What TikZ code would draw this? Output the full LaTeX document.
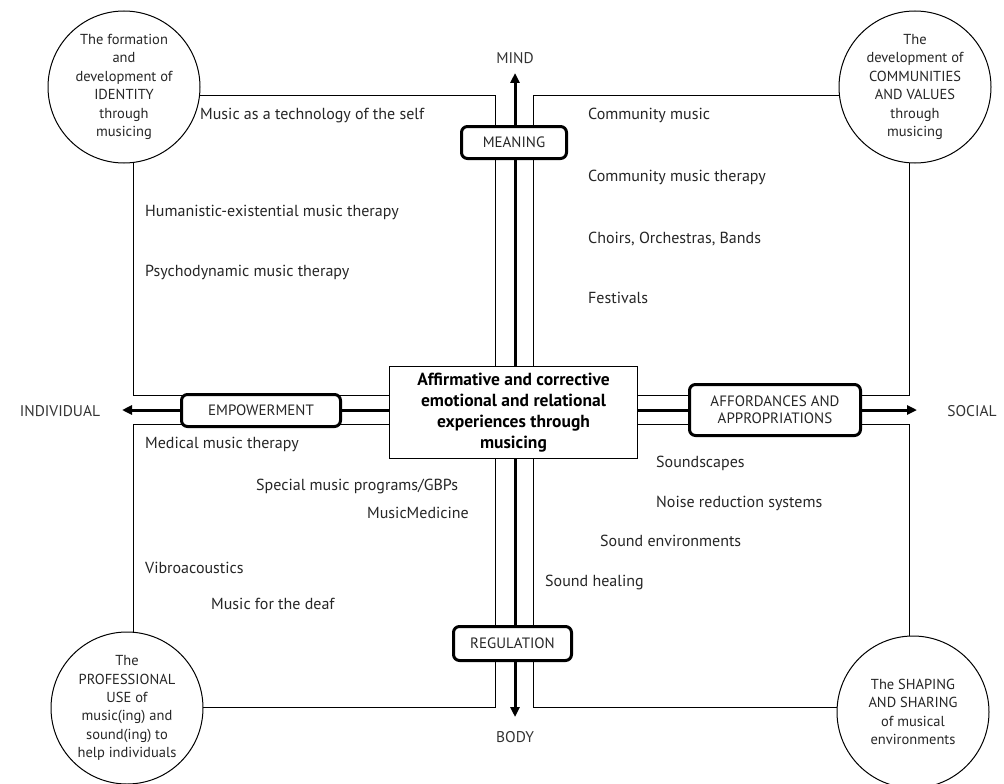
\documentclass[tikz,border=0pt]{standalone}
\usepackage{fontspec}
\setmainfont{PT Sans}
\usetikzlibrary{arrows.meta}
\begin{document}
\begin{tikzpicture}[x=1pt,y=-1pt,
  frame/.style={draw, line width=1pt},
  axis/.style={line width=3pt, -{Triangle[length=10pt,width=9pt]}},
  item/.style={font=\fontsize{16}{18}\selectfont, anchor=base west, inner sep=0pt, text=black!85},
  pole/.style={font=\fontsize{15.5}{17}\selectfont, inner sep=0pt, text=black!80},
  keybox/.style={draw, line width=3pt, rounded corners=6pt, fill=white, font=\fontsize{15}{17}\selectfont, align=center, inner sep=0pt, text=black!85},
  circ/.style={draw, circle, line width=1pt, fill=white, minimum size=152pt, inner sep=0pt, align=center, font=\fontsize{14.5}{18.4}\selectfont, text=black!85},
]
\useasboundingbox (0,0) rectangle (1004,784);
\fill[white] (0,0) rectangle (1004,784);

% quadrant frames
\draw[frame] (133,95) rectangle (495,395);
\draw[frame] (533,95) rectangle (909,395);
\draw[frame] (133,424) rectangle (495,707);
\draw[frame] (533,424) rectangle (909,707);

% core
\node[draw, line width=1.5pt, fill=white, minimum width=248pt, minimum height=92pt, align=center, inner sep=0pt,
      font=\bfseries\fontsize{17.5}{20.8}\selectfont] (core) at (513.5,412.5)
  {Affirmative and corrective\\emotional and relational\\experiences through\\musicing};

% axis tips
\coordinate (mindtip) at (515,73);
\coordinate (bodytip) at (515,717);
\coordinate (indtip) at (122,410);
\coordinate (soctip) at (917,410);
\draw[axis] (core.north -| mindtip) -- (mindtip);
\draw[axis] (core.south -| bodytip) -- (bodytip);
\draw[axis] (core.west |- indtip) -- (indtip);
\draw[axis] (core.east |- soctip) -- (soctip);

% key boxes
\node[keybox, minimum width=105pt, minimum height=32pt] (meaning) at (514,142.5) {MEANING};
\node[keybox, minimum width=118pt, minimum height=34pt] (regulation) at (512.5,643.5) {REGULATION};
\node[keybox, minimum width=159pt, minimum height=32pt] (empower) at (261,410.5) {EMPOWERMENT};
\node[keybox, minimum width=171pt, minimum height=51pt] (afford) at (775,410) {AFFORDANCES AND\\APPROPRIATIONS};

% poles
\node[pole] (mind) at (515,58) {MIND};
\node[pole] (body) at (515,737) {BODY};
\node[pole] (individual) at (60,411) {INDIVIDUAL};
\node[pole] (social) at (972,411) {SOCIAL};

% corner circles
\node[circ] (identity) at (124,87) {The formation\\and\\development of\\IDENTITY\\through\\musicing};
\node[circ] (community) at (915,87) {The\\development of\\COMMUNITIES\\AND VALUES\\through\\musicing};
\node[circ] (professional) at (127,708) {The\\PROFESSIONAL\\USE of\\music(ing) and\\sound(ing) to\\help individuals};
\node[circ] (shaping) at (913,712) {The SHAPING\\AND SHARING\\of musical\\environments};

% items
\node[item] (t1) at (200,119) {Music as a technology of the self};
\node[item] (t2) at (145,216) {Humanistic-existential music therapy};
\node[item] (t3) at (145,276) {Psychodynamic music therapy};
\node[item] (c1) at (588,119) {Community music};
\node[item] (c2) at (588,181) {Community music therapy};
\node[item] (c3) at (588,243) {Choirs, Orchestras, Bands};
\node[item] (c4) at (588,303) {Festivals};
\node[item] (m1) at (145,448) {Medical music therapy};
\node[item] (m2) at (256,490) {Special music programs/GBPs};
\node[item] (m3) at (367,518) {MusicMedicine};
\node[item] (m4) at (145,573) {Vibroacoustics};
\node[item] (m5) at (211,609) {Music for the deaf};
\node[item] (s1) at (656,467) {Soundscapes};
\node[item] (s2) at (656,507) {Noise reduction systems};
\node[item] (s3) at (600,546) {Sound environments};
\node[item] (s4) at (545,586) {Sound healing};
\end{tikzpicture}
\end{document}
